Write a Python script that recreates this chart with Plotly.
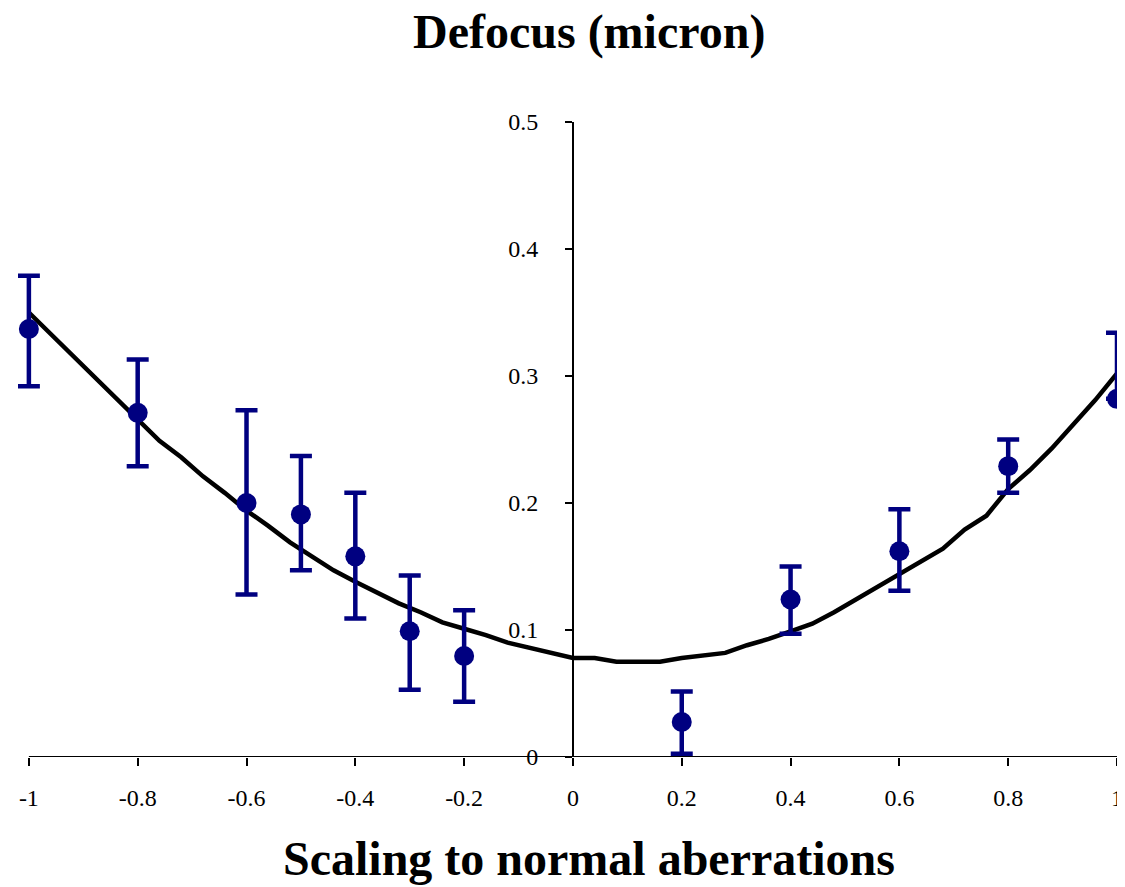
import plotly.graph_objects as go

# Measured data points (scaling vs defocus) with error bars
pt_x = [-1.0, -0.8, -0.6, -0.5, -0.4, -0.3, -0.2, 0.2, 0.4, 0.6, 0.8, 1.0]
pt_y = [0.337, 0.271, 0.200, 0.191, 0.158, 0.099, 0.0795, 0.0276, 0.124, 0.162, 0.229, 0.282]
err_plus = [0.042, 0.042, 0.073, 0.046, 0.050, 0.044, 0.036, 0.024, 0.026, 0.033, 0.021, 0.052]
err_minus = [0.045, 0.042, 0.072, 0.044, 0.049, 0.046, 0.036, 0.025, 0.027, 0.031, 0.021, 0.0]

# Model curve
curve_x = [-1.00, -0.96, -0.92, -0.88, -0.84, -0.80, -0.76, -0.72, -0.68, -0.64,
           -0.60, -0.56, -0.52, -0.48, -0.44, -0.40, -0.36, -0.32, -0.28, -0.24,
           -0.20, -0.16, -0.12, -0.08, -0.04, 0.00, 0.04, 0.08, 0.12, 0.16,
           0.20, 0.24, 0.28, 0.32, 0.36, 0.40, 0.44, 0.48, 0.52, 0.56,
           0.60, 0.64, 0.68, 0.72, 0.76, 0.80, 0.84, 0.88, 0.92, 0.96, 1.00]
curve_y = [0.350, 0.333, 0.316, 0.299, 0.282, 0.265, 0.249, 0.236, 0.221, 0.208,
           0.194, 0.182, 0.169, 0.158, 0.147, 0.138, 0.129, 0.121, 0.114, 0.106,
           0.101, 0.096, 0.090, 0.086, 0.082, 0.078, 0.078, 0.075, 0.075, 0.075,
           0.078, 0.080, 0.082, 0.088, 0.093, 0.099, 0.105, 0.114, 0.124, 0.133,
           0.143, 0.153, 0.164, 0.179, 0.190, 0.211, 0.226, 0.243, 0.262, 0.281, 0.302]

x_ticks = [-1, -0.8, -0.6, -0.4, -0.2, 0, 0.2, 0.4, 0.6, 0.8, 1]
x_tick_labels = ["-1", "-0.8", "-0.6", "-0.4", "-0.2", "0", "0.2", "0.4", "0.6", "0.8", "1"]
y_ticks = [0, 0.1, 0.2, 0.3, 0.4, 0.5]
y_tick_labels = ["0", "0.1", "0.2", "0.3", "0.4", "0.5"]

title_text = "Defocus (micron)"
xlabel_text = "Scaling to normal aberrations"

NAVY = "#000080"
FONT = "Liberation Serif"

# axis span slightly wider than data axis so end markers/caps are not clipped
X_RANGE = [-1.02, 1.0147]
Y_RANGE = [0, 0.5]
x0_frac = (0 - X_RANGE[0]) / (X_RANGE[1] - X_RANGE[0])
label_frac = (0.03 - X_RANGE[0]) / (X_RANGE[1] - X_RANGE[0])

# page body has an 8px margin, so the figure is 8px smaller than the window
W, H = 1117, 879
PLOT_W = (X_RANGE[1] - X_RANGE[0]) * 544.0

fig = go.Figure()

fig.add_trace(go.Scatter(
    x=curve_x, y=curve_y, mode="lines",
    line=dict(color="black", width=4.5),
    cliponaxis=False, showlegend=False,
))

fig.add_trace(go.Scatter(
    x=pt_x, y=pt_y, mode="markers",
    marker=dict(color=NAVY, size=20, line=dict(width=0)),
    error_y=dict(type="data", symmetric=False, array=err_plus, arrayminus=err_minus,
                 color=NAVY, thickness=4.5, width=11),
    cliponaxis=False, showlegend=False,
))

fig.update_layout(
    width=W, height=H,
    margin=dict(l=W - PLOT_W, r=0, t=114, b=130, autoexpand=False),
    paper_bgcolor="white", plot_bgcolor="white",
    font=dict(family=FONT, color="black", size=24),
    xaxis=dict(
        range=X_RANGE, showgrid=False, zeroline=False, automargin=False,
        showline=False,
        ticks="outside", ticklen=8, tickwidth=2, tickcolor="black",
        tickvals=x_ticks, ticktext=x_tick_labels,
        tickfont=dict(family=FONT, size=24),
        ticklabelstandoff=11,
        fixedrange=True,
    ),
    yaxis=dict(
        range=Y_RANGE, showgrid=False, zeroline=False, automargin=False,
        anchor="free", position=x0_frac,
        showline=True, linecolor="black", linewidth=2,
        ticks="outside", ticklen=7, tickwidth=2, tickcolor="black",
        tickvals=y_ticks, ticktext=y_tick_labels,
        tickfont=dict(family=FONT, size=24),
        ticklabelstandoff=22,
        fixedrange=True,
    ),
    shapes=[
        dict(type="line", xref="x", yref="y", x0=x_ticks[0], x1=x_ticks[-1], y0=0, y1=0,
             line=dict(color="black", width=2), layer="below"),
    ],
    annotations=[
        dict(text="<b>" + title_text + "</b>", xref="paper", yref="paper",
             x=label_frac, y=1, yshift=90, xanchor="center", yanchor="middle",
             showarrow=False, font=dict(family=FONT, size=48, color="black")),
        dict(text="<b>" + xlabel_text + "</b>", xref="paper", yref="paper",
             x=label_frac, y=0, yshift=-101, xanchor="center", yanchor="middle",
             showarrow=False, font=dict(family=FONT, size=48, color="black")),
    ],
)

fig.write_html("out.html")
